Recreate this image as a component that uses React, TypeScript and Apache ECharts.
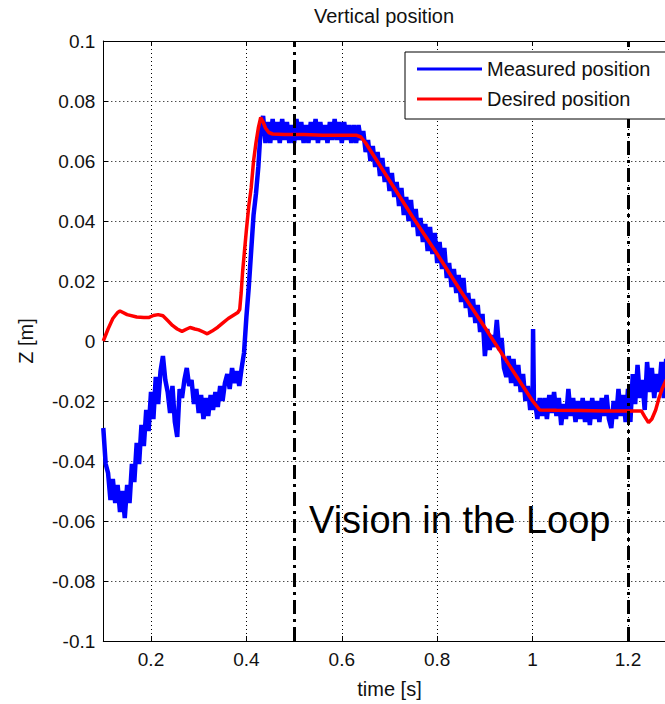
import React, { useEffect, useRef } from "react";
import * as echarts from "echarts";

const title = "Vertical position";
const xName = "time [s]";
const yName = "Z [m]";
const annotation = "Vision in the Loop";
const legendNames = ["Measured position", "Desired position"];
const visionMarks = [0.5, 1.2];

const measured: [number, number][] = [
  [0.100, -0.029], [0.105, -0.041], [0.110, -0.044], [0.115, -0.053], [0.120, -0.046], [0.125, -0.054],
  [0.130, -0.048], [0.135, -0.057], [0.140, -0.050], [0.145, -0.059], [0.150, -0.048], [0.155, -0.054],
  [0.160, -0.041], [0.165, -0.047], [0.170, -0.034], [0.175, -0.041], [0.180, -0.028], [0.185, -0.035],
  [0.190, -0.023], [0.195, -0.030], [0.200, -0.017], [0.205, -0.026], [0.210, -0.012], [0.215, -0.021],
  [0.220, -0.010], [0.225, -0.005], [0.230, -0.013], [0.235, -0.017], [0.240, -0.024], [0.245, -0.015],
  [0.250, -0.027], [0.255, -0.032], [0.260, -0.016], [0.265, -0.019], [0.270, -0.013], [0.275, -0.009],
  [0.280, -0.015], [0.285, -0.013], [0.290, -0.021], [0.295, -0.016], [0.300, -0.024], [0.305, -0.018],
  [0.310, -0.026], [0.315, -0.019], [0.320, -0.025], [0.325, -0.018], [0.330, -0.023], [0.335, -0.017],
  [0.340, -0.022], [0.345, -0.015], [0.350, -0.020], [0.355, -0.014], [0.360, -0.011], [0.365, -0.016],
  [0.370, -0.009], [0.375, -0.014], [0.380, -0.010], [0.385, -0.015], [0.390, -0.009], [0.395, -0.004],
  [0.400, 0.008], [0.405, 0.018], [0.410, 0.030], [0.415, 0.042], [0.420, 0.049], [0.425, 0.058],
  [0.430, 0.071], [0.435, 0.075], [0.440, 0.066], [0.445, 0.073],
  [0.450, 0.066], [0.455, 0.074], [0.460, 0.067], [0.465, 0.073], [0.470, 0.066], [0.475, 0.074],
  [0.480, 0.067], [0.485, 0.073], [0.490, 0.066], [0.495, 0.072], [0.500, 0.066], [0.505, 0.074],
  [0.510, 0.067], [0.515, 0.073], [0.520, 0.066], [0.525, 0.072], [0.530, 0.066], [0.535, 0.073],
  [0.540, 0.067], [0.545, 0.074], [0.550, 0.066], [0.555, 0.073], [0.560, 0.067], [0.565, 0.072],
  [0.570, 0.066], [0.575, 0.073], [0.580, 0.067], [0.585, 0.074], [0.590, 0.067], [0.595, 0.073],
  [0.600, 0.066], [0.605, 0.073], [0.610, 0.067], [0.615, 0.072], [0.620, 0.066], [0.625, 0.072],
  [0.630, 0.066], [0.635, 0.072], [0.640, 0.067],
  [0.645, 0.070], [0.650, 0.063], [0.655, 0.067], [0.660, 0.060], [0.665, 0.065], [0.670, 0.058],
  [0.675, 0.063], [0.680, 0.055], [0.685, 0.061], [0.690, 0.053], [0.695, 0.058], [0.700, 0.050],
  [0.705, 0.056], [0.710, 0.048], [0.715, 0.053], [0.720, 0.045], [0.725, 0.051], [0.730, 0.042],
  [0.735, 0.048], [0.740, 0.040], [0.745, 0.047], [0.750, 0.038], [0.755, 0.044], [0.760, 0.035],
  [0.765, 0.041], [0.770, 0.033], [0.775, 0.039], [0.780, 0.030], [0.785, 0.038], [0.790, 0.029],
  [0.795, 0.036], [0.800, 0.026], [0.805, 0.033], [0.810, 0.024], [0.815, 0.031], [0.820, 0.021],
  [0.825, 0.026], [0.830, 0.018], [0.835, 0.024], [0.840, 0.016], [0.845, 0.022], [0.850, 0.013],
  [0.855, 0.021], [0.860, 0.011], [0.865, 0.016], [0.870, 0.008], [0.875, 0.014], [0.880, 0.006],
  [0.885, 0.012], [0.890, 0.003], [0.895, 0.009], [0.900, -0.005], [0.905, 0.004], [0.910, -0.003],
  [0.915, 0.002], [0.920, -0.002], [0.925, 0.007], [0.930, -0.003], [0.935, 0.001], [0.940, -0.009],
  [0.945, -0.012], [0.950, -0.005], [0.955, -0.014], [0.960, -0.006], [0.965, -0.015], [0.970, -0.008],
  [0.975, -0.017], [0.980, -0.011], [0.985, -0.020], [0.990, -0.015], [0.995, -0.023], [1.000, -0.018],
  [1.001, 0.004], [1.003, -0.023],
  [1.005, -0.020], [1.010, -0.026], [1.015, -0.019], [1.020, -0.025], [1.025, -0.019], [1.030, -0.026],
  [1.035, -0.018], [1.040, -0.024], [1.045, -0.017], [1.050, -0.025], [1.055, -0.019], [1.060, -0.028],
  [1.065, -0.021], [1.070, -0.026], [1.075, -0.016], [1.080, -0.025], [1.085, -0.019], [1.090, -0.027],
  [1.095, -0.020], [1.100, -0.026], [1.105, -0.019], [1.110, -0.027], [1.115, -0.020], [1.120, -0.028],
  [1.125, -0.019], [1.130, -0.026], [1.135, -0.020], [1.140, -0.027], [1.145, -0.019], [1.150, -0.025],
  [1.155, -0.018], [1.160, -0.026], [1.165, -0.029], [1.170, -0.020], [1.175, -0.026], [1.180, -0.016],
  [1.185, -0.025], [1.190, -0.018], [1.195, -0.027], [1.200, -0.016], [1.205, -0.027], [1.210, -0.011],
  [1.215, -0.021], [1.220, -0.008], [1.225, -0.019], [1.230, -0.013], [1.235, -0.023], [1.240, -0.007],
  [1.245, -0.017], [1.250, -0.009], [1.255, -0.019], [1.260, -0.011], [1.265, -0.017], [1.270, -0.007],
  [1.275, -0.019], [1.280, -0.006], [1.285, -0.016],
];

const desired: [number, number][] = [
  [0.100, 0.000], [0.110, 0.004], [0.120, 0.0075], [0.130, 0.0095], [0.135, 0.0100], [0.150, 0.0088],
  [0.170, 0.0080], [0.185, 0.0078], [0.195, 0.0078], [0.205, 0.0085], [0.215, 0.0088], [0.225, 0.0084],
  [0.235, 0.0068], [0.245, 0.0052], [0.255, 0.0040], [0.265, 0.0032], [0.275, 0.0040], [0.282, 0.0045],
  [0.292, 0.0040], [0.300, 0.0037], [0.310, 0.0030], [0.318, 0.0024], [0.328, 0.0033], [0.340, 0.0046],
  [0.352, 0.0062], [0.362, 0.0075], [0.372, 0.0085], [0.382, 0.0095], [0.386, 0.0105], [0.389, 0.016],
  [0.392, 0.023], [0.396, 0.030], [0.400, 0.037], [0.405, 0.045], [0.410, 0.051], [0.415, 0.060],
  [0.420, 0.066], [0.425, 0.071], [0.430, 0.0745], [0.435, 0.073], [0.440, 0.071], [0.447, 0.0695],
  [0.455, 0.0690], [0.480, 0.0688], [0.520, 0.0688], [0.560, 0.0686], [0.600, 0.0686], [0.630, 0.0686],
  [0.640, 0.0680], [0.650, 0.0660], [0.660, 0.0635], [0.680, 0.0585], [0.700, 0.0535], [0.750, 0.0410],
  [0.800, 0.0290], [0.850, 0.0165], [0.900, 0.0045], [0.950, -0.0078], [1.000, -0.0200], [1.015, -0.0230],
  [1.050, -0.0231], [1.100, -0.0232], [1.150, -0.0233], [1.200, -0.0233], [1.228, -0.0233], [1.235, -0.0252],
  [1.243, -0.0272], [1.250, -0.0260], [1.258, -0.0230], [1.265, -0.0190], [1.272, -0.0158], [1.280, -0.0130],
  [1.290, -0.0110],
];

const FONT = "Liberation Sans, Arial, sans-serif";

export default function App() {
  const ref = useRef<HTMLDivElement>(null);
  useEffect(() => {
    if (!ref.current) return;
    const chart = echarts.init(ref.current, null, { renderer: "svg" });
    const axisLineStyle = { color: "#000", width: 1 };
    const gridLine = { show: true, lineStyle: { color: "#000", width: 1, type: [1, 3] as any } };
    chart.setOption({
      animation: false,
      backgroundColor: "#fff",
      title: {
        text: title,
        left: 314,
        top: 6,
        padding: 0,
        textStyle: { fontFamily: FONT, fontSize: 20, fontWeight: "normal", color: "#111" },
      },
      legend: {
        orient: "vertical",
        left: 405,
        top: 52,
        padding: [7, 20, 10, 12],
        itemGap: 10,
        itemWidth: 65,
        itemHeight: 3,
        borderColor: "#000",
        borderWidth: 1,
        backgroundColor: "#fff",
        textStyle: { fontFamily: FONT, fontSize: 20, color: "#111", lineHeight: 20 },
        data: [
          { name: legendNames[0], icon: "rect", itemStyle: { color: "#0000ff" } },
          { name: legendNames[1], icon: "rect", itemStyle: { color: "#ff0000" } },
        ],
        z: 20,
      },
      grid: { left: 103.3, right: 4.3, top: 41, bottom: 60 },
      xAxis: [
        {
          type: "value",
          min: 0.1,
          max: 1.3,
          splitNumber: 6,
          position: "bottom",
          name: xName,
          nameLocation: "middle",
          nameGap: 38,
          nameTextStyle: { fontFamily: FONT, fontSize: 20, color: "#111" },
          axisLine: { show: true, onZero: false, lineStyle: axisLineStyle },
          axisTick: { show: true, inside: true, length: 5, lineStyle: axisLineStyle },
          axisLabel: {
            fontFamily: FONT,
            fontSize: 19,
            color: "#111",
            margin: 9,
            showMinLabel: false,
            showMaxLabel: false,
          },
          splitLine: gridLine,
        },
        {
          type: "value",
          min: 0.1,
          max: 1.3,
          splitNumber: 6,
          position: "top",
          axisLine: { show: true, onZero: false, lineStyle: axisLineStyle },
          axisTick: { show: true, inside: true, length: 5, lineStyle: axisLineStyle },
          axisLabel: { show: false },
          splitLine: { show: false },
        },
      ],
      yAxis: [
        {
          type: "value",
          min: -0.1,
          max: 0.1,
          interval: 0.02,
          position: "left",
          name: yName,
          nameLocation: "middle",
          nameGap: 67,
          nameTextStyle: { fontFamily: FONT, fontSize: 20, color: "#111" },
          axisLine: { show: true, onZero: false, lineStyle: axisLineStyle },
          axisTick: { show: true, inside: true, length: 5, lineStyle: axisLineStyle },
          axisLabel: { fontFamily: FONT, fontSize: 19, color: "#111", margin: 8 },
          splitLine: gridLine,
        },
        {
          type: "value",
          min: -0.1,
          max: 0.1,
          interval: 0.02,
          position: "right",
          axisLine: { show: true, onZero: false, lineStyle: axisLineStyle },
          axisTick: { show: true, inside: true, length: 5, lineStyle: axisLineStyle },
          axisLabel: { show: false },
          splitLine: { show: false },
        },
      ],
      graphic: [
        {
          type: "text",
          left: 309,
          top: 501,
          z: 30,
          style: { text: annotation, fontFamily: FONT, fontSize: 38, fill: "#000" },
        },
      ],
      series: [
        {
          name: legendNames[0],
          type: "line",
          data: measured,
          showSymbol: false,
          symbol: "none",
          lineStyle: { color: "#0000ff", width: 4.5 },
          itemStyle: { color: "#0000ff" },
          z: 3,
        },
        {
          name: legendNames[1],
          type: "line",
          data: desired,
          showSymbol: false,
          symbol: "none",
          lineStyle: { color: "#ff0000", width: 3.5 },
          itemStyle: { color: "#ff0000" },
          z: 4,
          markLine: {
            silent: true,
            symbol: "none",
            label: { show: false },
            lineStyle: { color: "#000", width: 3, type: [14, 5, 3, 5] as any },
            data: visionMarks.map((v) => ({ xAxis: v })),
            z: 6,
          },
        },
      ],
    });
    return () => chart.dispose();
  }, []);
  return (
    <div
      style={{
        position: "fixed",
        left: 0,
        top: 0,
        width: 665,
        height: 704,
        overflow: "hidden",
        background: "#fff",
      }}
    >
      <div ref={ref} style={{ width: 680, height: 704 }} />
    </div>
  );
}
